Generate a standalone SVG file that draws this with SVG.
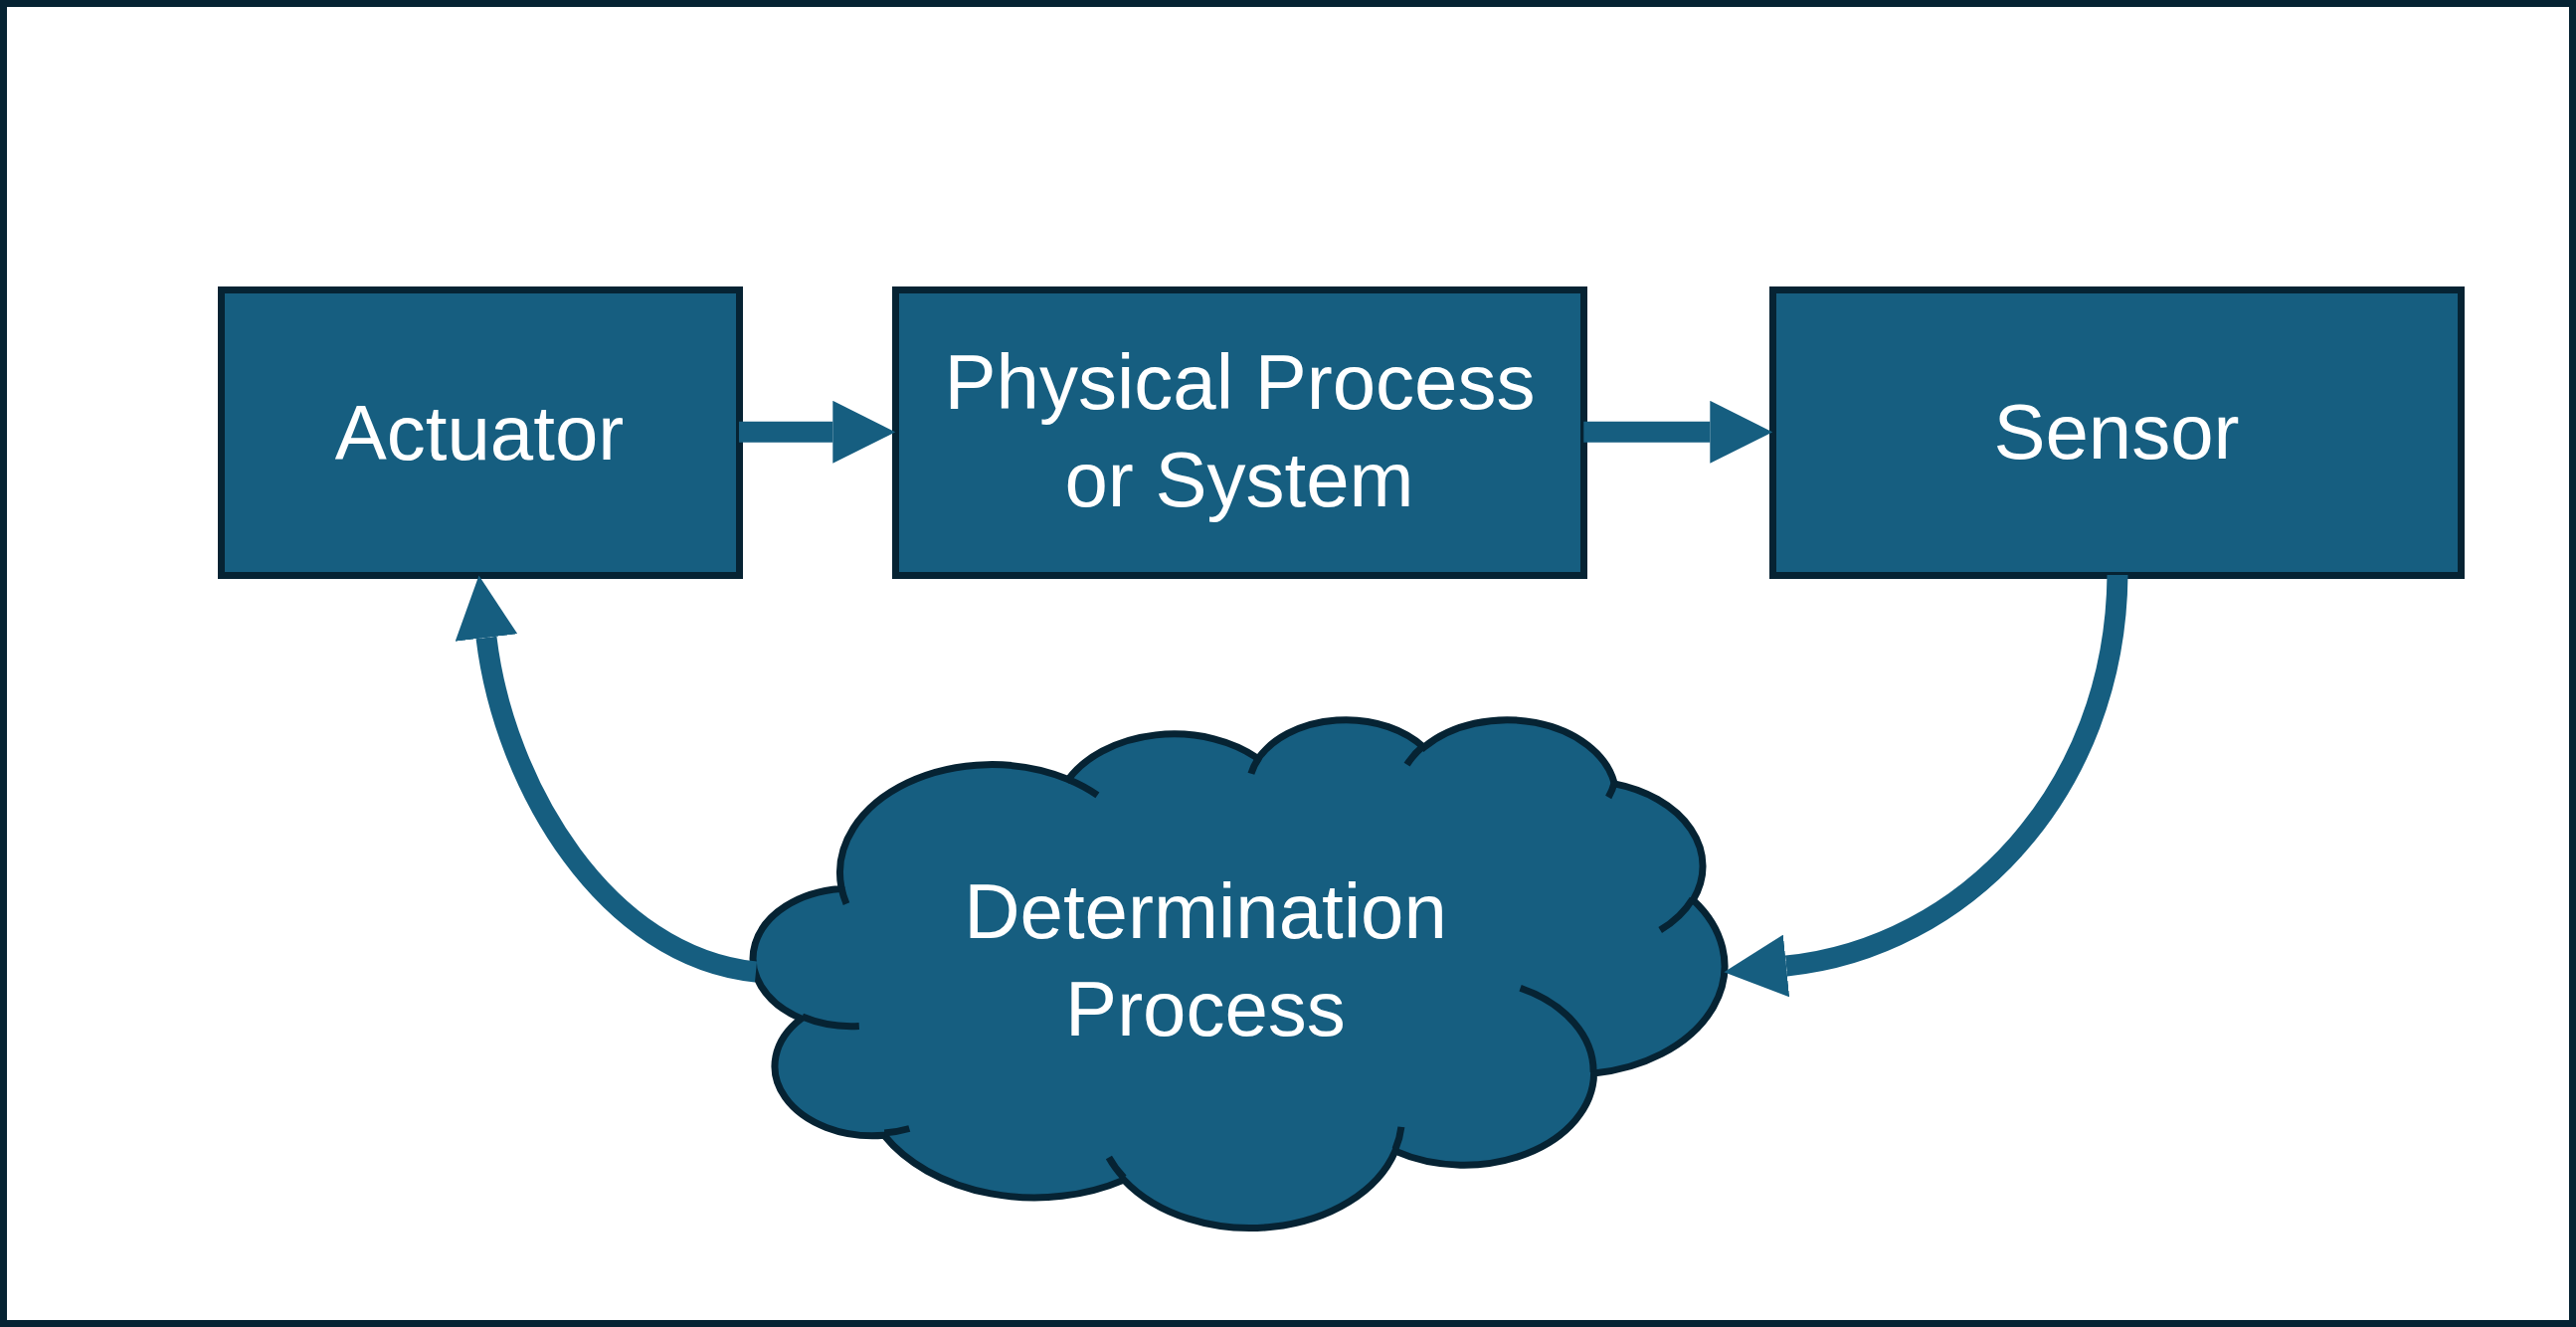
<svg xmlns="http://www.w3.org/2000/svg" width="2590" height="1334" viewBox="0 0 2590 1334">
  <style>
    .box { fill: #165E80; stroke: #062333; stroke-width: 7; }
    .cloud { fill: #165E80; stroke: #062333; stroke-width: 7; stroke-linejoin: miter; }
    .crease { fill: none; stroke: #062333; stroke-width: 7; }
    .lbl { font-family: "Liberation Sans", Arial, sans-serif; font-size: 78px; fill: #FFFFFF; text-anchor: middle; }
    .conn { fill: none; stroke: #165E80; stroke-width: 21; stroke-linecap: butt; }
  </style>
  <defs>
    <marker id="head" viewBox="0 0 3 3" refX="0" refY="1.5" markerWidth="3" markerHeight="3" markerUnits="strokeWidth" orient="auto">
      <path d="M0,0 L3,1.5 L0,3 Z" fill="#165E80"/>
    </marker>
  </defs>
  <rect x="0" y="0" width="2590" height="1334" fill="#FFFFFF"/>
  <rect x="3.5" y="3.5" width="2583" height="1327" fill="none" stroke="#062333" stroke-width="7"/>

  <g id="actuator">
    <rect class="box" x="222.5" y="291.5" width="521" height="287"/>
    <text class="lbl" x="482" y="461.5">Actuator</text>
  </g>
  <g id="physical">
    <rect class="box" x="900.5" y="291.5" width="692" height="287"/>
    <text class="lbl" x="1246.5" y="410.5">Physical Process</text>
    <text class="lbl" x="1246" y="509">or System</text>
  </g>
  <g id="sensor">
    <rect class="box" x="1782.5" y="291.5" width="692" height="287"/>
    <text class="lbl" x="2128" y="461">Sensor</text>
  </g>
  <g id="determination">
    <path class="cloud" d="M845.9,891.9 A152.52,108.63 0 0 1 1074.1,783.5 A120.45,85.90 0 0 1 1265.0,762.6 A98.59,70.27 0 0 1 1431.6,751.3 A109.70,77.95 0 0 1 1623.3,787.9 A120.45,85.97 0 0 1 1702.3,904.7 A153.02,108.98 0 0 1 1602.6,1079.0 A130.66,92.99 0 0 1 1402.8,1157.1 A152.50,108.92 0 0 1 1130.0,1186.1 A174.36,124.62 0 0 1 888.9,1141.3 A98.47,69.95 0 0 1 805.6,1024.0 A98.14,70.27 0 0 1 845.1,893.5 Z"/>
    <path class="crease" d="M863.8,1031.4 A98.14,70.27 0 0 1 806.6,1022.0 M914.3,1134.5 A98.47,69.95 0 0 1 889.2,1139.0 M1130.0,1184.0 A152.50,108.92 0 0 1 1114.9,1163.5 M1408.9,1132.8 A152.50,108.92 0 0 1 1402.9,1155.3 M1528.6,993.3 A130.66,92.99 0 0 1 1602.1,1077.7 M1701.9,903.5 A120.45,85.97 0 0 1 1669.2,935.1 M1623.4,786.1 A109.70,77.95 0 0 1 1617.2,801.4 M1414.6,768.7 A109.70,77.95 0 0 1 1431.3,749.7 M1257.9,777.8 A98.59,70.27 0 0 1 1266.0,761.4 M1074.0,783.4 A152.52,108.63 0 0 1 1103.4,799.3 M851.0,908.6 A152.52,108.63 0 0 1 845.9,891.9"/>
    <text class="lbl" x="1212" y="943">Determination</text>
    <text class="lbl" x="1212" y="1041">Process</text>
  </g>

  <g id="connectors">
    <path class="conn" marker-end="url(#head)" d="M743,434.3 L837.3,434.3"/>
    <path class="conn" marker-end="url(#head)" d="M1592.3,434.3 L1719.3,434.3"/>
    <path class="conn" marker-end="url(#head)" d="M2129,578 C2127,795 1975,953 1796,971"/>
    <path class="conn" marker-end="url(#head)" d="M760,977 C610,962 507,791 489,641"/>
  </g>
</svg>
